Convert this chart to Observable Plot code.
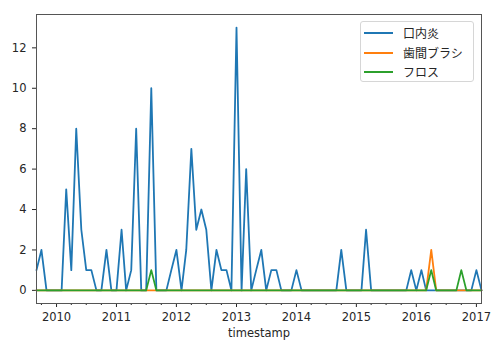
<!DOCTYPE html>
<html><head><meta charset="utf-8">
<script src="https://cdn.jsdelivr.net/npm/d3@7"></script>
<script src="https://cdn.jsdelivr.net/npm/@observablehq/plot@0.6"></script>
<style>
body{margin:0;background:#fff;}
#wrap{position:relative;width:500px;height:351px;font-family:"Noto Sans CJK JP","Noto Sans",sans-serif;color:#262626;}
.legend{position:absolute;left:360px;top:21px;width:114px;height:61px;border:1px solid #d6d6d6;border-radius:3px;background:rgba(255,255,255,0.85);box-sizing:border-box;}
.row{position:absolute;left:0;height:16px;width:110px;}
.row .sw{position:absolute;left:3px;top:7px;width:29px;height:2px;}
.row .lb{position:absolute;left:42px;top:0;font-size:12px;line-height:16px;white-space:nowrap;}
</style></head>
<body><div id="wrap"></div>
<script>
// monthly series, starting 2009-09, ending 2017-02
const startMonth = "2009-09-01";
const seriesNames = ["口内炎", "歯間ブラシ", "フロス"];
const seriesColors = ["#1f77b4", "#ff7f0e", "#2ca02c"];
const stomatitis = [
  1,2,0,0,
  0,0,5,1,8,3,1,1,0,0,2,0,
  0,3,0,1,8,0,0,10,0,0,0,1,
  2,0,2,7,3,4,3,0,2,1,1,0,
  13,0,6,0,1,2,0,1,1,0,0,0,
  1,0,0,0,0,0,0,0,0,2,0,0,
  0,0,3,0,0,0,0,0,0,0,0,1,
  0,1,0,0,0,0,0,0,0,0,0,0,
  1,0
];
const interdentalBrush = [
  0,0,0,0,
  0,0,0,0,0,0,0,0,0,0,0,0,
  0,0,0,0,0,0,0,0,0,0,0,0,
  0,0,0,0,0,0,0,0,0,0,0,0,
  0,0,0,0,0,0,0,0,0,0,0,0,
  0,0,0,0,0,0,0,0,0,0,0,0,
  0,0,0,0,0,0,0,0,0,0,0,0,
  0,0,0,2,0,0,0,0,0,0,0,0,
  0,0
];
const floss = [
  0,0,0,0,
  0,0,0,0,0,0,0,0,0,0,0,0,
  0,0,0,0,0,0,0,1,0,0,0,0,
  0,0,0,0,0,0,0,0,0,0,0,0,
  0,0,0,0,0,0,0,0,0,0,0,0,
  0,0,0,0,0,0,0,0,0,0,0,0,
  0,0,0,0,0,0,0,0,0,0,0,0,
  0,0,0,1,0,0,0,0,0,1,0,0,
  0,0
];
const yTicks = [0, 2, 4, 6, 8, 10, 12];
const xLabel = "timestamp";

const start = new Date(startMonth + "T00:00:00Z");
const dates = stomatitis.map((_, i) => d3.utcMonth.offset(start, i));
const allSeries = [stomatitis, interdentalBrush, floss];
const tables = allSeries.map((vals, s) => vals.map((v, i) => ({date: dates[i], value: v, series: seriesNames[s]})));
const domain = [dates[0], dates[dates.length - 1]];
const yearTicks = d3.utcYear.range(domain[0], d3.utcDay.offset(domain[1], 1));
const minorTicks = d3.utcMonth.every(3).range(domain[0], d3.utcDay.offset(domain[1], 1)).filter(d => d.getUTCMonth() !== 0);

const chart = Plot.plot({
  width: 500, height: 351,
  marginLeft: 36, marginRight: 19, marginTop: 14, marginBottom: 48,
  style: {fontFamily: '"DejaVu Sans",sans-serif', fontSize: "11.5px", color: "#262626", background: "#fff"},
  x: {type: "utc", domain},
  y: {domain: [-0.65, 13.65]},
  marks: [
    Plot.axisX({ticks: minorTicks, tickSize: 2, tickFormat: () => "", label: null}),
    Plot.axisX({ticks: yearTicks, tickSize: 4, tickPadding: 5, tickFormat: d3.utcFormat("%Y"), label: xLabel, labelAnchor: "center", labelArrow: "none", labelOffset: 33}),
    Plot.axisY({ticks: yTicks, tickSize: 4, tickPadding: 6, label: null}),
    ...tables.map((t, s) => Plot.line(t, {x: "date", y: "value", stroke: seriesColors[s], strokeWidth: 1.8})),
    Plot.frame({stroke: "#555", strokeWidth: 1})
  ]
});
const wrap = document.getElementById("wrap");
wrap.appendChild(chart);
const lg = document.createElement("div");
lg.className = "legend";
seriesNames.forEach((n, i) => {
  const r = document.createElement("div");
  r.className = "row";
  r.style.top = (3 + i * 19.5) + "px";
  r.innerHTML = `<div class="sw" style="background:${seriesColors[i]}"></div><div class="lb">${n}</div>`;
  lg.appendChild(r);
});
wrap.appendChild(lg);
</script></body></html>
